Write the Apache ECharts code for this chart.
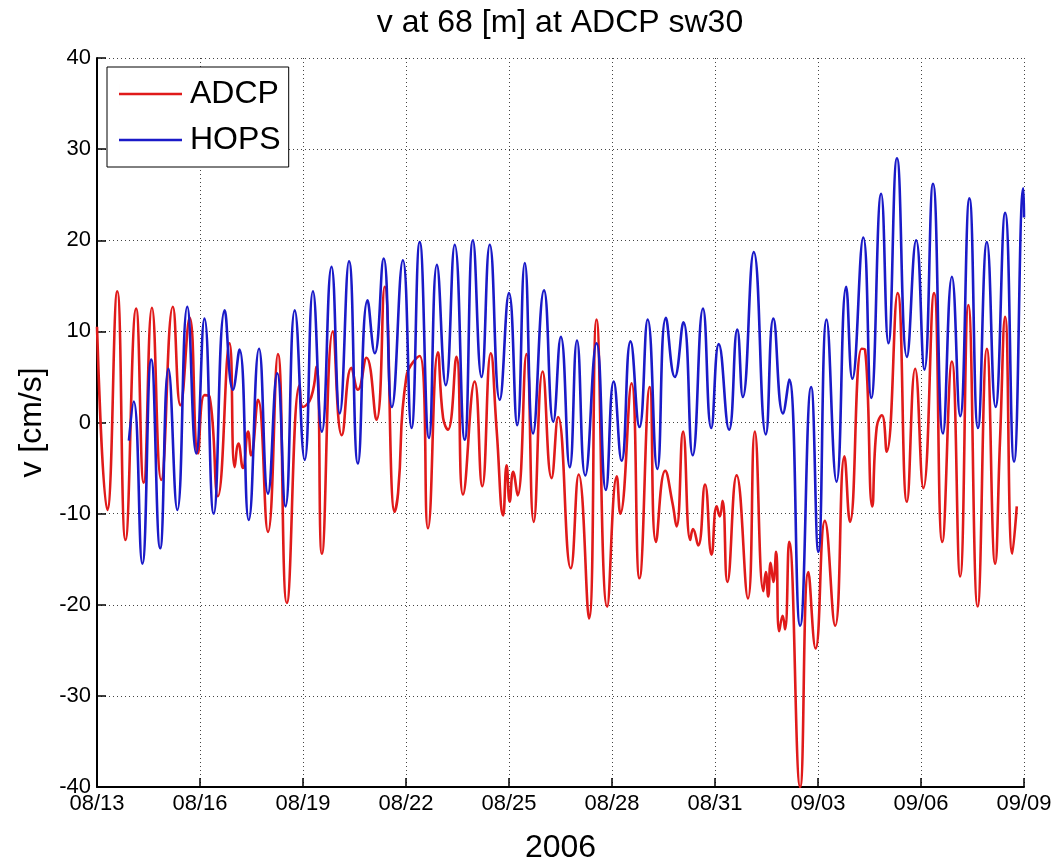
<!DOCTYPE html>
<html>
<head>
<meta charset="utf-8">
<title>v at 68 [m] at ADCP sw30</title>
<script src="https://cdn.jsdelivr.net/npm/echarts@6/dist/echarts.min.js"></script>
<style>
  html, body { margin: 0; padding: 0; background: #fff; }
  #chart { width: 1056px; height: 865px; }
</style>
</head>
<body>
<div id="chart"></div>
<script>
// Date tick labels (every 3 days from 08/13/2006)
const tickLabels = ['08/13', '08/16', '08/19', '08/22', '08/25', '08/28', '08/31', '09/03', '09/06', '09/09'];

// ADCP observed meridional velocity: time in days since 08/13 00:00, v in cm/s (turning points)
const adcpDays = [
  0.00, 0.30, 0.59, 0.83, 1.14, 1.36, 1.60, 1.87, 2.21, 2.43, 2.70, 2.94, 3.13, 3.28, 3.52, 3.86,
  4.01, 4.12, 4.25, 4.40, 4.49, 4.69, 4.98, 5.27, 5.53, 5.90, 6.00, 6.24, 6.39, 6.55, 6.87, 7.13,
  7.41, 7.60, 7.85, 8.14, 8.38, 8.67, 8.77, 9.01, 9.40, 9.64, 9.93, 10.08, 10.22, 10.47, 10.66,
  11.00, 11.22, 11.47, 11.64, 11.83, 11.93, 12.02, 12.12, 12.25, 12.51, 12.72, 12.98, 13.24, 13.43,
  13.80, 14.03, 14.33, 14.55, 14.86, 15.14, 15.24, 15.57, 15.80, 16.10, 16.28, 16.55, 16.76, 16.88,
  17.07, 17.28, 17.36, 17.51, 17.71, 17.90, 18.05, 18.14, 18.22, 18.36, 18.63, 18.96, 19.16, 19.41,
  19.48, 19.55, 19.62, 19.70, 19.78, 19.87, 19.97, 20.04, 20.16, 20.48, 20.72, 20.93, 21.20, 21.50,
  21.77, 21.93, 22.27, 22.37, 22.58, 22.71, 22.86, 23.00, 23.32, 23.59, 23.83, 24.07, 24.38, 24.62,
  24.90, 25.14, 25.38, 25.65, 25.92, 26.16, 26.30, 26.45, 26.66, 26.79
];
const adcpSpeed = [
  10.5, -9.6, 14.4, -12.9, 12.5, -6.6, 12.6, -6.3, 12.7, 1.9, 11.5, -3.4, 3.0, 2.8, -8.1, 8.7,
  -4.9, -2.3, -5.0, -1.0, -3.6, 2.5, -12.0, 7.5, -19.8, 4.1, 1.7, 2.8, 6.1, -14.4, 10.0, -1.4,
  6.0, 3.6, 7.1, 0.3, 14.9, -9.8, -7.7, 5.0, 7.3, -11.6, 7.7, 0.5, -0.8, 7.2, -7.9,
  4.5, -7.0, 7.6, -0.8, -10.2, -4.7, -8.7, -5.4, -8.0, 7.5, -10.9, 5.6, -6.1, 0.6,
  -16.0, -5.7, -21.5, 11.3, -20.2, -5.9, -10.0, 4.3, -17.1, 3.9, -13.1, -5.3, -8.8, -11.4,
  -1.0, -12.9, -11.7, -13.5, -6.8, -14.5, -9.2, -10.3, -8.6, -17.5, -5.8, -19.3, -1.0, -18.5,
  -16.4, -19.1, -15.4, -17.5, -14.2, -22.9, -21.2, -22.7, -13.1, -40.0, -16.4, -24.8, -10.8, -22.3,
  -3.7, -10.9, 8.1, 8.0, -9.2, -0.5, 0.8, -3.2, 14.2, -8.7, 5.9, -7.2, 14.2, -13.1,
  6.7, -16.9, 12.9, -20.2, 8.1, -15.5, -2.1, 11.6, -14.4, -9.2
];

// HOPS model meridional velocity: time in days since 08/13 00:00, v in cm/s (turning points)
const hopsDays = [
  0.93, 1.07, 1.32, 1.58, 1.84, 2.08, 2.34, 2.63, 2.89, 3.13, 3.40, 3.72, 3.96, 4.15, 4.42, 4.72,
  4.98, 5.25, 5.49, 5.76, 6.05, 6.29, 6.55, 6.83, 7.07, 7.34, 7.60, 7.88, 8.09, 8.35, 8.59, 8.91,
  9.16, 9.40, 9.67, 9.90, 10.16, 10.42, 10.71, 10.95, 11.20, 11.44, 11.73, 12.00, 12.24, 12.46,
  12.70, 13.02, 13.29, 13.51, 13.77, 13.98, 14.22, 14.55, 14.82, 15.05, 15.28, 15.54, 15.80, 16.04,
  16.32, 16.57, 16.83, 17.08, 17.35, 17.65, 17.89, 18.11, 18.41, 18.65, 18.81, 19.13, 19.48, 19.70,
  19.98, 20.16, 20.48, 20.80, 21.01, 21.25, 21.54, 21.82, 22.00, 22.32, 22.55, 22.84, 23.05, 23.30,
  23.59, 23.86, 24.10, 24.35, 24.64, 24.90, 25.14, 25.41, 25.66, 25.92, 26.17, 26.45, 26.71, 26.98,
  27.00
];
const hopsSpeed = [
  -2.0, 2.3, -15.5, 6.9, -13.8, 5.9, -9.6, 12.7, -3.4, 11.4, -10.0, 12.3, 3.6, 8.0, -10.7, 8.1,
  -7.8, 5.4, -9.2, 12.3, -4.1, 14.4, -1.0, 17.1, 1.0, 17.7, -4.5, 13.4, 7.6, 18.0, 1.7, 17.8,
  -0.6, 19.8, -1.7, 17.3, 4.1, 19.5, -1.9, 20.0, 5.0, 19.5, 2.5, 14.2, -0.3, 17.5,
  -1.2, 14.5, 0.1, 9.4, -4.9, 9.0, -5.8, 8.7, -7.4, 4.5, -4.2, 8.9, -0.5, 11.3,
  -5.1, 11.5, 5.0, 11.0, -3.6, 12.5, -0.6, 8.6, -0.8, 10.2, 2.8, 18.7, -1.3, 11.4,
  1.0, 4.7, -22.3, 3.9, -14.2, 11.3, -6.5, 14.9, 4.8, 20.3, 2.7, 25.1, 8.7, 29.0,
  7.2, 20.0, 5.8, 26.2, -1.2, 16.0, 0.7, 24.6, -0.6, 19.8, 1.7, 23.0, -4.3, 25.7,
  22.5
];

const FONT = '"Liberation Sans", Arial, Helvetica, sans-serif';
const RED = '#e01a1a';
const BLUE = '#1a1ac8';

// Legend key: a plain horizontal stroke centred in a 63x20 cell
const LINE_KEY = 'path://M0 0H0.01V20H0Z M0 8.8H63V11.2H0Z';

const pairs = (xs, ys) => xs.map((x, i) => [x, ys[i]]);

const chart = echarts.init(document.getElementById('chart'), null, { renderer: 'canvas' });

const gridLine = { show: true, lineStyle: { color: '#444', width: 1, type: [1, 3] } };

chart.setOption({
  animation: false,
  backgroundColor: '#ffffff',
  graphic: [{
    type: 'text',
    x: 560,
    y: 7,
    style: {
      text: 'v at 68 [m] at ADCP sw30',
      font: '32px ' + FONT,
      fill: '#000',
      textAlign: 'center',
      textVerticalAlign: 'top'
    }
  }],
  grid: { left: 97, right: 32, top: 58, bottom: 78, containLabel: false, outerBoundsMode: 'none' },
  legend: {
    orient: 'vertical',
    left: 107,
    top: 67,
    padding: [11, 8, 11, 12],
    itemWidth: 63,
    itemHeight: 20,
    itemGap: 14,
    backgroundColor: '#ffffff',
    borderColor: '#000000',
    borderWidth: 1,
    borderRadius: 0,
    textStyle: { fontFamily: FONT, fontSize: 32, color: '#000', padding: [0, 0, 0, 3] },
    data: [
      { name: 'ADCP', icon: LINE_KEY, itemStyle: { color: RED } },
      { name: 'HOPS', icon: LINE_KEY, itemStyle: { color: BLUE } }
    ]
  },
  xAxis: {
    type: 'value',
    min: 0,
    max: 27,
    interval: 3,
    name: '2006',
    nameLocation: 'middle',
    nameGap: 45,
    nameTextStyle: { fontFamily: FONT, fontSize: 32, color: '#000' },
    axisLine: { show: true, onZero: false, lineStyle: { color: '#000', width: 2 } },
    axisTick: { show: true, inside: true, length: 9, lineStyle: { color: '#000', width: 1.5 } },
    axisLabel: {
      margin: 6,
      fontFamily: FONT,
      fontSize: 22,
      color: '#000',
      formatter: v => tickLabels[Math.round(v / 3)]
    },
    splitLine: gridLine
  },
  yAxis: {
    type: 'value',
    min: -40,
    max: 40,
    interval: 10,
    name: 'v [cm/s]',
    nameLocation: 'middle',
    nameGap: 41,
    nameRotate: 90,
    nameTextStyle: { fontFamily: FONT, fontSize: 32, color: '#000' },
    axisLine: { show: true, onZero: false, lineStyle: { color: '#000', width: 2 } },
    axisTick: { show: true, inside: true, length: 9, lineStyle: { color: '#000', width: 1.5 } },
    axisLabel: { margin: 6, fontFamily: FONT, fontSize: 22, color: '#000' },
    splitLine: gridLine
  },
  series: [
    {
      name: 'ADCP',
      type: 'line',
      data: pairs(adcpDays, adcpSpeed),
      showSymbol: false,
      symbol: 'none',
      smooth: 0.5,
      color: RED,
      lineStyle: { width: 2.6, color: RED },
      z: 2
    },
    {
      name: 'HOPS',
      type: 'line',
      data: pairs(hopsDays, hopsSpeed),
      showSymbol: false,
      symbol: 'none',
      smooth: 0.5,
      color: BLUE,
      lineStyle: { width: 2.6, color: BLUE },
      z: 3
    }
  ]
});
</script>
</body>
</html>
